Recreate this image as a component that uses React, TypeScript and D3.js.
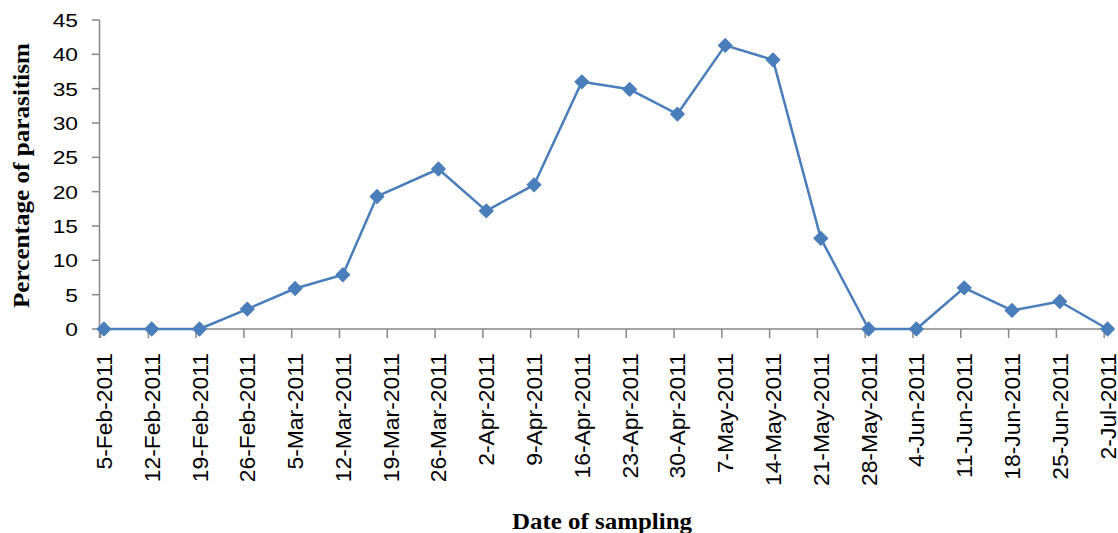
import React from "react";
import * as d3 from "d3";

// sampling dates (ISO), percentage of parasitism
const sampleDates = [
  "2011-02-05", "2011-02-12", "2011-02-19", "2011-02-26", "2011-03-05", "2011-03-12",
  "2011-03-17", "2011-03-26", "2011-04-02", "2011-04-09", "2011-04-16", "2011-04-23",
  "2011-04-30", "2011-05-07", "2011-05-14", "2011-05-21", "2011-05-28", "2011-06-04",
  "2011-06-11", "2011-06-18", "2011-06-25", "2011-07-02",
];
const parasitism = [
  0, 0, 0, 2.9, 5.9, 7.9, 19.3, 23.3, 17.2, 21.0, 36.0, 34.9, 31.3, 41.3, 39.2, 13.2, 0, 0, 6.0, 2.7, 4.0, 0,
];
// axis ticks (weekly)
const tickDates = [
  "2011-02-05", "2011-02-12", "2011-02-19", "2011-02-26", "2011-03-05", "2011-03-12",
  "2011-03-19", "2011-03-26", "2011-04-02", "2011-04-09", "2011-04-16", "2011-04-23",
  "2011-04-30", "2011-05-07", "2011-05-14", "2011-05-21", "2011-05-28", "2011-06-04",
  "2011-06-11", "2011-06-18", "2011-06-25", "2011-07-02",
];
const tickLabels = [
  "5-Feb-2011", "12-Feb-2011", "19-Feb-2011", "26-Feb-2011", "5-Mar-2011", "12-Mar-2011",
  "19-Mar-2011", "26-Mar-2011", "2-Apr-2011", "9-Apr-2011", "16-Apr-2011", "23-Apr-2011",
  "30-Apr-2011", "7-May-2011", "14-May-2011", "21-May-2011", "28-May-2011", "4-Jun-2011",
  "11-Jun-2011", "18-Jun-2011", "25-Jun-2011", "2-Jul-2011",
];
const yTicks = [0, 5, 10, 15, 20, 25, 30, 35, 40, 45];
const xTitle = "Date of sampling";
const yTitle = "Percentage of parasitism";

const W = 1118;
const H = 533;
const BLUE = "#4A7EBB";
const AXIS = "#868686";
const HALF_DAY = 12 * 3600 * 1000;

const parse = (s: string) => new Date(s + "T00:00:00Z");

export default function App() {
  const x = d3
    .scaleUtc()
    .domain([parse("2011-02-05"), parse("2011-07-03")])
    .range([100.5, 1111]);
  const y = d3.scaleLinear().domain([0, 45]).range([329, 20]);

  const pts: [number, number][] = sampleDates.map((d, i) => [
    x(new Date(parse(d).getTime() + HALF_DAY)),
    y(parasitism[i]),
  ]);
  const line = d3.line()(pts) || "";
  const marker = d3.symbol().type(d3.symbolSquare).size(88)() || "";

  return (
    <svg
      width={W}
      height={H}
      style={{ position: "absolute", left: 0, top: 0, background: "#fff" }}
    >
      {/* y axis */}
      <line x1={99.5} x2={99.5} y1={y(45)} y2={338} stroke={AXIS} strokeWidth={1.5} />
      {yTicks.map((t) => (
        <g key={t}>
          <line x1={92} x2={99.5} y1={y(t)} y2={y(t)} stroke={AXIS} strokeWidth={1.5} />
          <text
            transform={`translate(78,${y(t) + 7}) scale(1.2,1)`}
            textAnchor="end"
            fontFamily="'Liberation Sans', Arial, sans-serif"
            fontSize={19}
            fill="#000"
          >
            {t}
          </text>
        </g>
      ))}
      {/* x axis */}
      <line x1={99.5} x2={1112} y1={y(0)} y2={y(0)} stroke={AXIS} strokeWidth={1.5} />
      {tickDates.map((d, i) => {
        const tx = x(parse(d));
        const lx = x(new Date(parse(d).getTime() + HALF_DAY)) + 8;
        return (
          <g key={d}>
            <line x1={tx} x2={tx} y1={y(0)} y2={338} stroke={AXIS} strokeWidth={1.5} />
            <text
              transform={`translate(${lx},353) rotate(-90) scale(1.04,1)`}
              textAnchor="end"
              fontFamily="'Liberation Sans', Arial, sans-serif"
              fontSize={22}
              fill="#000"
            >
              {tickLabels[i]}
            </text>
          </g>
        );
      })}
      {/* series */}
      <path d={line} fill="none" stroke={BLUE} strokeWidth={2.5} strokeLinejoin="round" />
      {pts.map(([px, py], i) => (
        <path
          key={i}
          d={marker}
          transform={`translate(${px},${py}) rotate(45)`}
          fill={BLUE}
          stroke={BLUE}
          strokeWidth={1.5}
          strokeLinejoin="round"
        />
      ))}
      {/* titles */}
      <text
        transform="translate(29,175.5) rotate(-90)"
        textAnchor="middle"
        fontFamily="'Liberation Serif', 'Times New Roman', serif"
        fontWeight="bold"
        fontSize={23}
        textLength={265}
        lengthAdjust="spacingAndGlyphs"
        fill="#000"
      >
        {yTitle}
      </text>
      <text
        x={602}
        y={529}
        textAnchor="middle"
        fontFamily="'Liberation Serif', 'Times New Roman', serif"
        fontWeight="bold"
        fontSize={23}
        textLength={180}
        lengthAdjust="spacingAndGlyphs"
        fill="#000"
      >
        {xTitle}
      </text>
    </svg>
  );
}
